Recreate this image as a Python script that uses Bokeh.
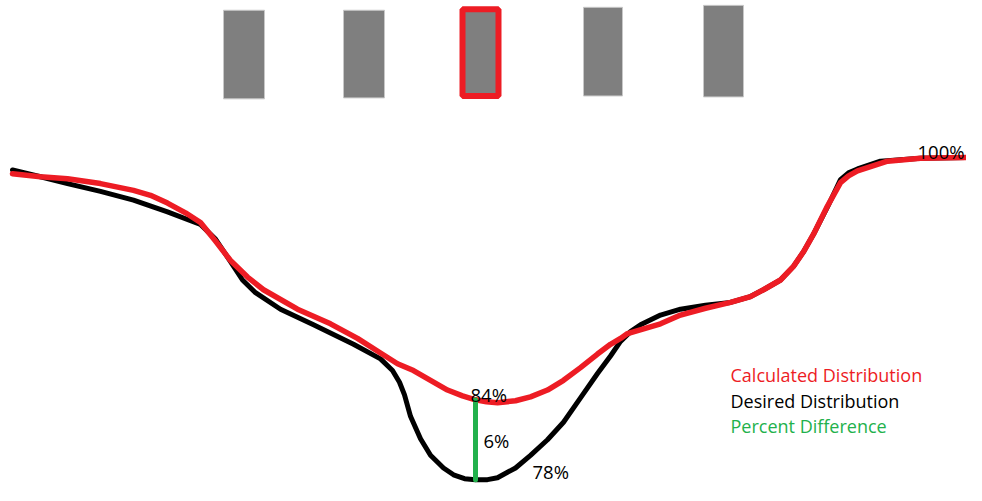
from bokeh.plotting import figure
from bokeh.models import Range1d
from bokeh.core.properties import value
from bokeh.embed import file_html
from bokeh.resources import INLINE

# Bars (top row), in picture pixel units
bar_left = [223, 343, 459, 583, 703]
bar_right = [264, 384, 501, 622, 743]
bar_top = [10, 10, 6, 7, 5]
bar_bottom = [101, 100, 101, 98, 99]
highlight_index = 2

# Desired distribution (black)
desired_x = [12, 40, 67, 100, 133, 167, 200, 215, 230, 242, 255, 280, 313, 353, 380, 392, 399, 404,
             410, 420, 430, 443, 453, 464, 475, 487, 497, 515, 530, 547, 563, 580, 597, 610, 620, 630, 640,
             660, 680, 705, 730, 750, 763, 780, 793, 803, 813, 827, 840, 848, 857, 880, 920, 980]
desired_y = [174, 181, 188, 196, 205, 217, 230, 245, 268, 287, 300, 317, 333, 353, 368, 380, 392, 405,
             427, 450, 467, 480, 487, 491, 492, 492, 490, 480, 467, 451, 433, 408, 383, 365, 350, 340, 333,
             323, 317, 313, 310, 304, 297, 287, 273, 258, 240, 212, 184, 177, 173, 165, 162, 161]

# Calculated distribution (red)
calc_x = [12, 40, 67, 100, 133, 150, 167, 185, 200, 215, 230, 247, 263, 297, 330, 357, 380, 397,
          413, 430, 447, 462, 475, 486, 497, 515, 530, 547, 563, 580, 597, 610, 620, 627, 660, 680,
          705, 730, 750, 763, 780, 793, 803, 813, 826, 840, 848, 857, 887, 920, 980]
calc_y = [178, 181, 183, 188, 195, 200, 208, 218, 228, 247, 267, 284, 297, 317, 332, 347, 362, 373,
          380, 390, 400, 406, 410, 412, 413, 411, 407, 400, 390, 377, 363, 353, 347, 342, 332, 323,
          316, 310, 304, 297, 287, 273, 258, 240, 213, 187, 180, 175, 165, 162, 161]

# Difference marker
diff_x = [475, 475]
diff_y = [410, 492]

# Value labels
label_text = ["84%", "6%", "78%", "100%"]
label_x = [470, 483, 532, 964]
label_y = [405, 452, 484, 155]
label_align = ["left", "left", "left", "right"]

legend_text = ["Calculated Distribution", "Desired Distribution", "Percent Difference"]
legend_colors = ["#ED1C24", "#000000", "#22B14C"]
legend_x = [730, 730, 730]
legend_y = [385, 411, 437]

W, H = 966, 485
p = figure(width=W, height=H, output_backend="svg", toolbar_location=None,
           x_range=Range1d(0, W), y_range=Range1d(498, 0),
           min_border=0, outline_line_color=None)
p.axis.visible = False
p.grid.visible = False
p.background_fill_color = "white"
p.border_fill_color = "white"

normal = [i for i in range(len(bar_left)) if i != highlight_index]
p.quad(left=[bar_left[i] for i in normal], right=[bar_right[i] for i in normal],
       top=[bar_top[i] for i in normal], bottom=[bar_bottom[i] for i in normal],
       fill_color="#7F7F7F", line_color="#C8C8C8", line_width=1)
h = highlight_index
p.quad(left=[bar_left[h] + 3], right=[bar_right[h] - 3], top=[bar_top[h] + 3],
       bottom=[bar_bottom[h] - 3], fill_color="#7F7F7F", line_color="#ED1C24", line_width=6)

p.line(desired_x, desired_y, line_color="#000000", line_width=5, line_join="round", line_cap="round")
p.line(calc_x, calc_y, line_color="#ED1C24", line_width=5.5, line_join="round", line_cap="round")
p.line(diff_x, diff_y, line_color="#22B14C", line_width=5, line_cap="round")

p.text(x=label_x, y=label_y, text=label_text, text_font=value("Open Sans"),
       text_font_size="18.5px", text_color="#000000", text_baseline="alphabetic", text_align=label_align)
p.text(x=legend_x, y=legend_y, text=legend_text, text_font=value("Open Sans"),
       text_font_size="18px", text_color=legend_colors, text_baseline="alphabetic", text_align="left")

open("out.html", "w").write(file_html(p, INLINE))
